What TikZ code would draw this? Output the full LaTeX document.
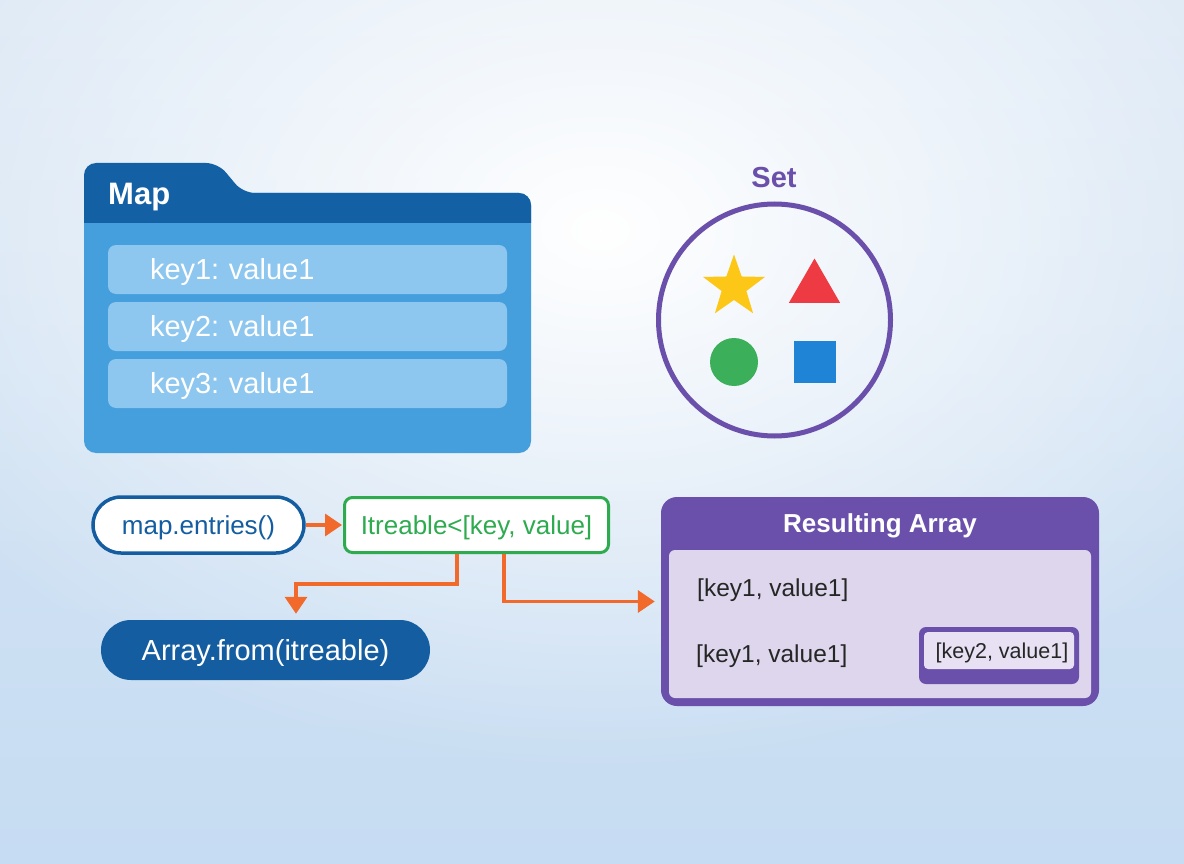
\documentclass[tikz,border=0pt]{standalone}
\usepackage{fontspec}
\setmainfont{Liberation Sans}
\frenchspacing
\usetikzlibrary{arrows.meta,shapes.geometric,fadings}
\tikzfading[name=glow, inner color=transparent!0, outer color=transparent!100]
\definecolor{bgtop}{HTML}{DCE8F5}
\definecolor{bgbot}{HTML}{C6DCF2}
\definecolor{mapdark}{HTML}{1460A5}
\definecolor{mapbody}{HTML}{449FDC}
\definecolor{maprowc}{HTML}{8DC6EE}
\definecolor{pillblue}{HTML}{135DA0}
\definecolor{flowc}{HTML}{F26A2B}
\definecolor{iterc}{HTML}{2EAA4F}
\definecolor{setc}{HTML}{6A50AB}
\definecolor{lavender}{HTML}{DDD6EC}
\definecolor{pairfill}{HTML}{E7E1F3}
\definecolor{starc}{HTML}{FCC716}
\definecolor{trianglec}{HTML}{EE3A43}
\definecolor{dotc}{HTML}{3CAF5A}
\definecolor{squarec}{HTML}{1F84D6}
\tikzset{
  fsize/.style 2 args={font=\fontsize{#1}{#2}\selectfont, text height=0.716*#1, text depth=0pt, inner sep=0pt},
  maprow/.style={fill=maprowc, rounded corners=8pt, minimum width=399pt, minimum height=49pt,
    fsize={29}{34}, text width=315pt, inner xsep=42pt, align=left, text=white},
  pill/.style={rounded corners=28pt, minimum height=56pt},
  flow/.style={draw=flowc, line width=3.5pt, -{Triangle[length=17pt,width=22pt]}},
  pairtext/.style={fsize={24.5}{29}, text=black!85},
}
\begin{document}
\begin{tikzpicture}[x=1pt,y=-1pt]
\useasboundingbox (0,0) rectangle (1184,864);
\shade[top color=bgtop, bottom color=bgbot] (0,0) rectangle (1184,864);
\begin{scope}
  \clip (0,0) rectangle (1184,864);
  \fill[white, path fading=glow] (600,230) ellipse (780pt and 540pt);
\end{scope}

\fill[mapbody, rounded corners=12pt] (84,193) rectangle (531,453);
\begin{scope}
  \clip (80,150) rectangle (540,222);
  \fill[mapdark, rounded corners=12pt] (84,260) -- (84,163) -- (218,163) -- (243,193) -- (531,193) -- (531,260) -- cycle;
\end{scope}
\node[fsize={31}{36}, anchor=west, text=white, font=\bfseries\fontsize{31}{36}\selectfont] (maplabel) at (108,193) {Map};
\node[maprow] (row1) at (307.5,269.5) {key1: value1};
\node[maprow] (row2) at (307.5,326.5) {key2: value1};
\node[maprow] (row3) at (307.5,383.5) {key3: value1};

\node[fsize={29}{34}, text=setc, font=\bfseries\fontsize{29}{34}\selectfont] (setlabel) at (774,177) {Set};
\node[circle, draw=setc, line width=5pt, minimum size=232pt] (setring) at (774.5,320) {};
\node[star, star points=5, star point ratio=2.5, fill=starc, inner sep=0pt, minimum size=65pt] (starshape) at (734,287) {};
\node[regular polygon, regular polygon sides=3, fill=trianglec, inner sep=0pt, minimum size=59pt] (triangleshape) at (814.5,288) {};
\node[circle, fill=dotc, inner sep=0pt, minimum size=48pt] (dotshape) at (734,362) {};
\node[fill=squarec, inner sep=0pt, minimum size=42pt] (squareshape) at (815,362) {};

\node[pill, fsize={26}{31}, draw=pillblue, line width=3.5pt, fill=white, minimum width=211pt,
  text=pillblue] (entries) at (198.5,525) {map.entries()};
\node[fsize={26}{31}, draw=iterc, line width=3pt, fill=white, rounded corners=8pt, minimum width=264pt,
  minimum height=55pt, text=iterc] (iter) at (476.5,525) {Itreable<[key, value]};
\node[pill, fsize={29}{34}, fill=pillblue, rounded corners=30pt, minimum width=329pt, minimum height=60pt,
  text=white] (arr) at (265.5,650) {Array.from(itreable)};

\node[fill=setc, rounded corners=16pt, minimum width=438pt, minimum height=209pt] (res) at (880,601.5) {};
\fill[lavender, rounded corners=6pt] (669,550) rectangle (1091,698);
\node[fsize={26}{31}, text=white, font=\bfseries\fontsize{26}{31}\selectfont] (restitle) at (880,523) {Resulting Array};
\node[pairtext, anchor=west] (pair1) at (697,588) {[key1, value1]};
\node[pairtext, anchor=west] (pair2) at (696,654) {[key1, value1]};
\node[fill=setc, rounded corners=7pt, minimum width=160pt, minimum height=57pt] (pairbox) at (999,655.5) {};
\fill[pairfill, rounded corners=4pt] (924,632) rectangle (1074,669);
\node[pairtext, fsize={21.5}{26}] (pair3) at (1002,651) {[key2, value1]};

\draw[flow, shorten >=1pt] (entries) -- (iter);
\draw[flow, shorten >=6pt] ([xshift=-19.5pt]iter.south) -- ++(0,30) -| ([xshift=30.5pt]arr.north);
\draw[flow, shorten >=6pt] ([xshift=27.5pt]iter.south) |- (res.west);
\end{tikzpicture}
\end{document}
